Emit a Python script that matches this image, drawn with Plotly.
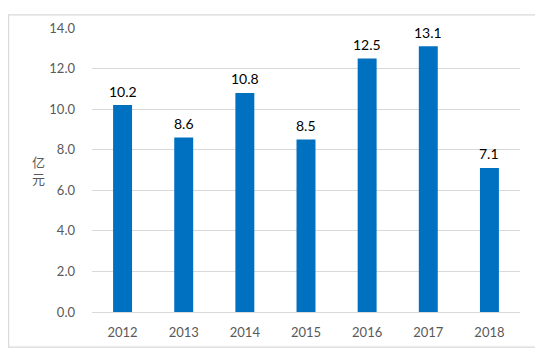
import plotly.graph_objects as go

years = ["2012", "2013", "2014", "2015", "2016", "2017", "2018"]
values = [10.2, 8.6, 10.8, 8.5, 12.5, 13.1, 7.1]
y_ticks = [0, 2, 4, 6, 8, 10, 12, 14]
y_tick_text = ["0.0", "2.0", "4.0", "6.0", "8.0", "10.0", "12.0", "14.0"]
y_title = "亿<br>元"

FONT = "Lato, 'Noto Sans CJK SC', sans-serif"

fig = go.Figure()
fig.add_trace(go.Bar(x=years, y=values, marker=dict(color="#0070C0", line=dict(width=0)),
                     hoverinfo="skip"))

for i, v in enumerate(values):
    fig.add_annotation(x=i, y=v, text=f"{v:.1f}", showarrow=False, yshift=14,
                       yanchor="middle", font=dict(size=14, color="#000000", family=FONT))

fig.add_annotation(xref="paper", yref="paper", x=-0.126, y=0.5, text=y_title,
                   showarrow=False, font=dict(size=13, color="#595959", family=FONT),
                   xanchor="center", yanchor="middle")

fig.add_shape(type="rect", xref="paper", yref="paper", x0=-0.195, x1=1.037, y0=-0.124, y1=1.046,
              line=dict(color="#D9D9D9", width=1.3), fillcolor="rgba(0,0,0,0)", layer="below")

fig.update_layout(
    width=535, height=347,
    margin=dict(l=84, r=23, t=14, b=43),
    paper_bgcolor="white", plot_bgcolor="white",
    bargap=0.69, showlegend=False,
    font=dict(family=FONT, size=13, color="#595959"),
    xaxis=dict(type="category", range=[-0.5, len(years) - 0.5], showgrid=False, showline=True,
               linecolor="#D9D9D9", linewidth=1,
               ticks="", tickfont=dict(size=13, color="#595959"), ticklabelstandoff=8),
    yaxis=dict(range=[0, 14], tickvals=y_ticks, ticktext=y_tick_text, showgrid=True,
               gridcolor="#D9D9D9", gridwidth=1, zeroline=False, showline=False,
               ticks="", tickfont=dict(size=13, color="#595959"), ticklabelstandoff=16),
)

fig.write_html("out.html")
